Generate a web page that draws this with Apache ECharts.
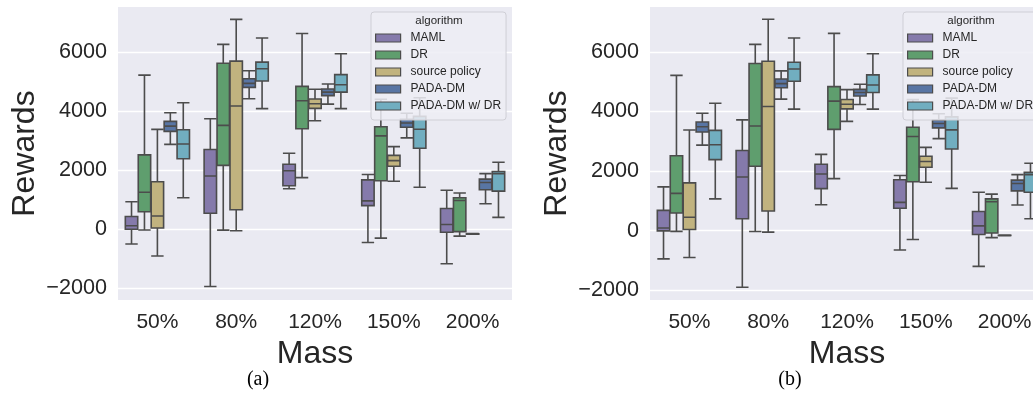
<!DOCTYPE html>
<html><head><meta charset="utf-8">
<script src="https://cdn.jsdelivr.net/npm/echarts@6/dist/echarts.min.js"></script>
<style>html,body{margin:0;padding:0;background:#fff}#c{width:1033px;height:395px}</style>
</head><body><div id="c"></div>
<script>
// ---- data ----
const categories = ['50%', '80%', '120%', '150%', '200%'];
const algorithms = ['MAML', 'DR', 'source policy', 'PADA-DM', 'PADA-DM w/ DR'];
const yTicks = [-2000, 0, 2000, 4000, 6000];
// each entry: [lower whisker, Q1, median, Q3, upper whisker], one per mass category
const mamlA = [[-500, 0, 120, 430, 930], [-1940, 540, 1800, 2700, 3740], [1370, 1470, 1980, 2200, 2570], [-450, 800, 960, 1670, 1850], [-1170, -100, 160, 700, 1320]];
const mamlB = [[-950, -10, 90, 680, 1470], [-1900, 400, 1800, 2690, 3720], [870, 1410, 1900, 2230, 2560], [-650, 750, 950, 1710, 1850], [-1200, -130, 160, 640, 1290]];
const dr = [[-25, 590, 1250, 2515, 5215], [-30, 2160, 3515, 5615, 6255], [1745, 3400, 4350, 4835, 6625], [-300, 1640, 3160, 3470, 4400], [-235, -80, 970, 1065, 1225]];
const sourcePolicy = [[-905, 40, 450, 1605, 3380], [-50, 660, 4170, 5690, 7100], [3670, 4090, 4245, 4405, 4735], [1625, 2130, 2320, 2500, 2795], [-172, -166, -161, -156, -150]];
const padaDm = [[2870, 3310, 3490, 3650, 3940], [4415, 4800, 4935, 5090, 5365], [4235, 4520, 4640, 4745, 4915], [3090, 3450, 3595, 3720, 3925], [860, 1335, 1580, 1695, 1880]];
const padaDmDr = [[1065, 2385, 2885, 3365, 4280], [4080, 5015, 5430, 5655, 6470], [4080, 4640, 4890, 5230, 5940], [1420, 2740, 3385, 3820, 4450], [400, 1290, 1880, 1955, 2265]];
const panelA = [mamlA, dr, sourcePolicy, padaDm, padaDmDr];
const panelB = [mamlB, dr, sourcePolicy, padaDm, padaDmDr];
const panelCaptions = ['(a)', '(b)'];

// ---- styling ----
const colors = ['#857AAB', '#5F9E6E', '#C1B37F', '#5875A4', '#71AEC0'];
const textColor = '#262626';
const lineGray = '#4C4C4C';
const font = 'Liberation Sans, Arial, sans-serif';
const panels = [
  { data: panelA, left: 118, yMin: -2395, yMax: 7520 },
  { data: panelB, left: 650, yMin: -2330, yMax: 7510 }
];
const plotTop = 7, plotW = 394, plotH = 293;

const chart = echarts.init(document.getElementById('c'), null, { renderer: 'canvas' });

const grid = [], xAxis = [], yAxis = [], series = [], legend = [], graphic = [];
panels.forEach((p, pi) => {
  grid.push({ left: p.left, top: plotTop, width: plotW, height: plotH, show: true,
    backgroundColor: '#EAEAF2', borderWidth: 0, containLabel: false, outerBoundsMode: 'none' });
  xAxis.push({
    type: 'category', gridIndex: pi, data: categories, boundaryGap: true,
    axisLine: { show: false }, axisTick: { show: false }, splitLine: { show: false },
    axisLabel: { fontSize: 21, color: textColor, fontFamily: font, margin: 12, interval: 0 },
    name: 'Mass', nameLocation: 'middle', nameGap: 29,
    nameTextStyle: { fontSize: 32, color: textColor, fontFamily: font }
  });
  yAxis.push({
    type: 'value', gridIndex: pi, min: p.yMin, max: p.yMax,
    axisLine: { show: false },
    axisTick: { show: false, customValues: yTicks },
    axisLabel: { customValues: yTicks, fontSize: 21.6, color: textColor, fontFamily: font, margin: 11,
      formatter: v => String(v).replace('-', '\u2212') },
    splitLine: { show: true, lineStyle: { color: '#FFFFFF', width: 1.3 } },
    name: 'Rewards', nameLocation: 'middle', nameGap: 77,
    nameTextStyle: { fontSize: 32, color: textColor, fontFamily: font }
  });
  p.data.forEach((d, i) => {
    series.push({
      type: 'boxplot', name: algorithms[i], xAxisIndex: pi, yAxisIndex: pi,
      data: d, boxWidth: [12.4, 12.4], silent: true,
      itemStyle: { color: colors[i], borderColor: lineGray, borderWidth: 1.6 },
      emphasis: { disabled: true }
    });
  });
  const lgLeft = p.left + 253;
  legend.push({
    data: algorithms.map((n, i) => ({
      name: n,
      itemStyle: { color: colors[i], borderColor: lineGray, borderWidth: 1.2 }
    })),
    orient: 'vertical', left: lgLeft, top: 12,
    padding: [20, 5, 8, 4], itemWidth: 25, itemHeight: 8, itemGap: 5,
    icon: 'rect', selectedMode: false,
    backgroundColor: 'rgba(237,237,244,0.85)', borderColor: '#CFCFD6', borderWidth: 1, borderRadius: 3,
    textStyle: { fontSize: 12, color: textColor, fontFamily: font, padding: [0, 0, 0, 5] }
  });
  graphic.push({
    type: 'text', z: 100, x: lgLeft + 68, y: 21,
    style: { text: 'algorithm', fontSize: 11.5, fill: textColor, fontFamily: font, align: 'center', verticalAlign: 'middle' }
  });
  graphic.push({
    type: 'text', z: 100, x: p.left + 140, y: 380,
    style: { text: panelCaptions[pi], fontSize: 20, fill: '#000', fontFamily: 'Liberation Serif, Times New Roman, serif', align: 'center', verticalAlign: 'middle' }
  });
});

chart.setOption({
  animation: false,
  backgroundColor: '#FFFFFF',
  grid, xAxis, yAxis, series, legend, graphic,
  tooltip: { show: false }
});
</script>
</body></html>
